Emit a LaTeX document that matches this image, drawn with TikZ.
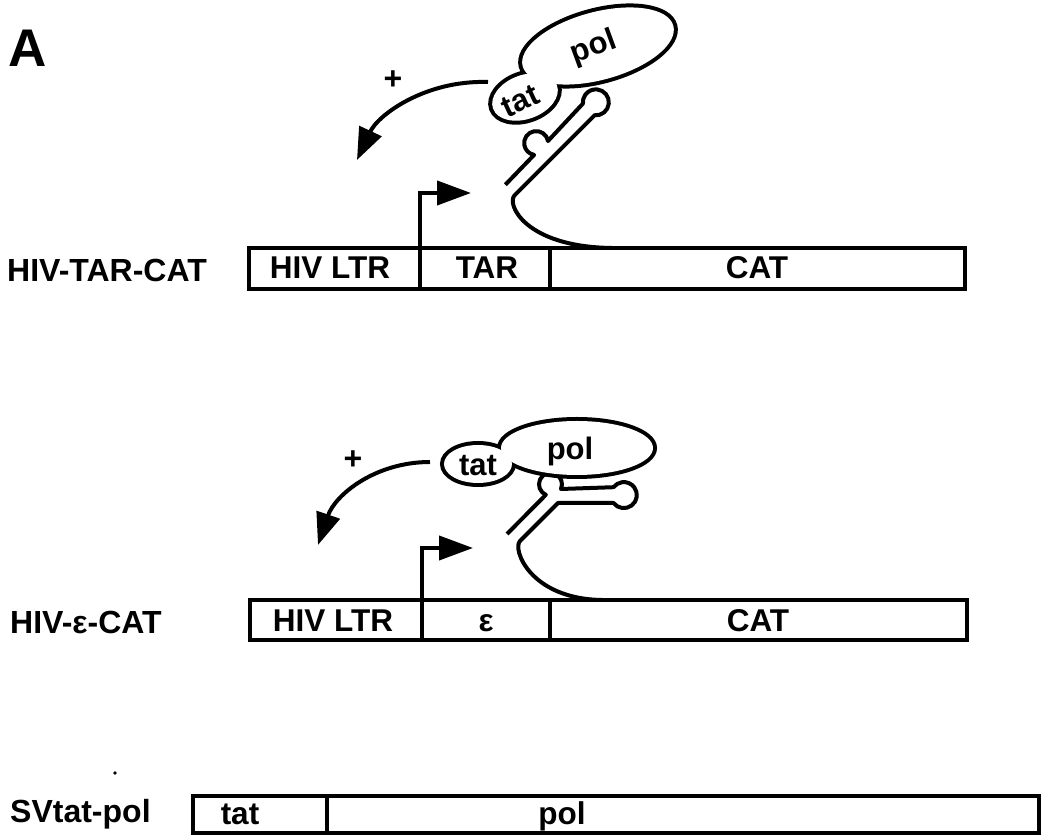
\documentclass[tikz,border=0pt]{standalone}
\usepackage{fontspec}
\setmainfont{Liberation Sans}
\usetikzlibrary{arrows.meta}
\begin{document}
\begin{tikzpicture}[x=1pt,y=1pt,
  lbl/.style={font=\bfseries\fontsize{32}{38}\selectfont, inner sep=0pt, anchor=base west},
  seg/.style={font=\bfseries\fontsize{31.5}{38}\selectfont, inner sep=0pt, anchor=base},
  box/.style={draw, line width=4.5pt},
  divider/.style={line width=3.5pt},
  strand/.style={line width=4pt, line join=round},
  prom/.style={line width=4pt, -{Triangle[length=34pt,width=24pt]}},
  act/.style={line width=4pt, -{Triangle[length=32pt,width=24pt]}},
  rim/.style={line width=8pt},
  prot/.style={font=\bfseries\fontsize{31}{38}\selectfont, inner sep=0pt},
  sign/.style={font=\bfseries\fontsize{32}{38}\selectfont, inner sep=0pt},
]
\useasboundingbox (0,0) rectangle (1042,838);

\node[font=\bfseries\fontsize{53}{60}\selectfont, inner sep=0pt] (panel) at (28,790) {A};

% ---------- HIV-TAR-CAT ----------
\node[lbl] (nameA) at (7,556) {HIV-TAR-CAT};
\coordinate (A-sw) at (249,549);
\coordinate (A-ne) at (965,590);
\draw[box] (A-sw) rectangle (A-ne);
\draw[divider] (420,590) -- (420,549);
\draw[divider] (550,590) -- (550,549);
\node[seg] (ltrA) at (330,559) {HIV LTR};
\node[seg] (tarA) at (487,559) {TAR};
\node[seg] (catA) at (757,559) {CAT};
\draw[prom] (420,590) |- (471,645);

% RNA stem-loop with bulge
\draw[strand] (612,590) .. controls (525,591) and (506,634) .. (514.6,642.7)
  -- (594.6,722.7) arc[start angle=-95.5, end angle=185.5, radius=13]
  -- (548.0,697.0) arc[start angle=10, end angle=260, radius=12]
  -- (505.38,653.28);

% tat/pol complex
\draw[rim, rotate around={20:(525,741)}] (525,741) ellipse [x radius=34, y radius=22];
\draw[rim, rotate around={15:(598,792)}] (598,792) ellipse [x radius=78, y radius=34];
\fill[white, rotate around={20:(525,741)}] (525,741) ellipse [x radius=34, y radius=22];
\fill[white, rotate around={15:(598,792)}] (598,792) ellipse [x radius=78, y radius=34];
\node[prot, rotate=25] (tatA) at (520,737) {tat};
\node[prot, rotate=20] (polA) at (594,790) {pol};

\node[sign] (plusA) at (393,758) {+};
\coordinate (actA) at (488,756);
\coordinate (tipA) at (357,678);
\draw[act] (actA) .. controls (425,758) and (378,723) .. (tipA);

% ---------- HIV-e-CAT ----------
\node[lbl] (nameB) at (10,204) {HIV-ε-CAT};
\coordinate (B-sw) at (250,198);
\coordinate (B-ne) at (967,238);
\draw[box] (B-sw) rectangle (B-ne);
\draw[divider] (422,238) -- (422,198);
\draw[divider] (550,238) -- (550,198);
\node[seg] (ltrB) at (333,206) {HIV LTR};
\node[seg] (epsB) at (486,206) {ε};
\node[seg] (catB) at (758,206) {CAT};
\draw[prom] (422,238) |- (473,290);

\draw[strand] (602,238) .. controls (530,239) and (512,289) .. (520,297)
  -- (558,335) -- (613.5,335) arc[start angle=-142.6, end angle=142.6, radius=13]
  -- (561.0,349) arc[start angle=-24, end angle=246, radius=11.5]
  -- (507,304);

\draw[rim] (478,374) ellipse [x radius=34, y radius=19];
\draw[rim] (577,390) ellipse [x radius=76, y radius=27];
\fill[white] (478,374) ellipse [x radius=34, y radius=19];
\fill[white] (577,390) ellipse [x radius=76, y radius=27];
\node[prot] (tatB) at (478,372) {tat};
\node[prot] (polB) at (570,387) {pol};

\node[sign] (plusB) at (353,378) {+};
\coordinate (actB) at (430,376);
\coordinate (tipB) at (318,293);
\draw[act] (actB) .. controls (375,376) and (335,343) .. (tipB);

% ---------- SVtat-pol ----------
\node[lbl] (nameC) at (10,15) {SVtat-pol};
\fill (115,65) circle (1.8);
\coordinate (C-sw) at (193,5);
\coordinate (C-ne) at (1039,42);
\draw[box] (C-sw) rectangle (C-ne);
\draw[divider] (327,42) -- (327,5);
\node[seg] (tatC) at (240,13) {tat};
\node[seg] (polC) at (562,13) {pol};
\end{tikzpicture}
\end{document}
